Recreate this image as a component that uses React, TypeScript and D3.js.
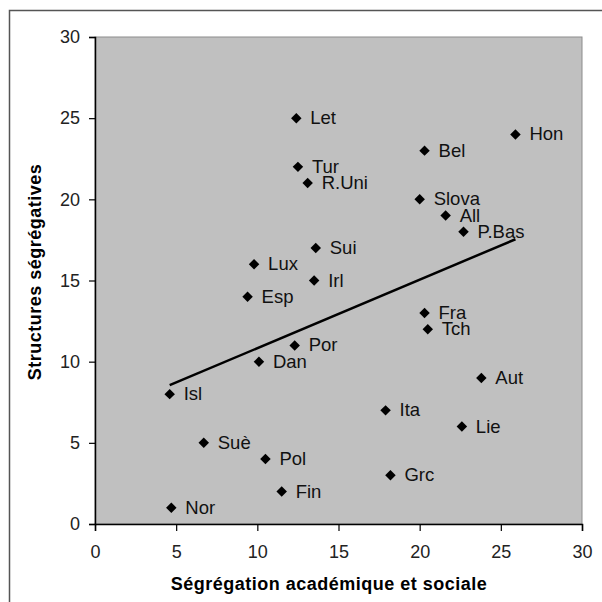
import React, { useEffect, useRef } from 'react'
import * as d3 from 'd3'

// pays et coordonnées
const countries = ['Let', 'Hon', 'Bel', 'Tur', 'R.Uni', 'Slova', 'All', 'P.Bas', 'Sui', 'Lux', 'Irl', 'Esp', 'Fra',
  'Tch', 'Por', 'Dan', 'Aut', 'Isl', 'Ita', 'Lie', 'Suè', 'Pol', 'Grc', 'Fin', 'Nor']
const segAcad = [12.4, 25.9, 20.3, 12.5, 13.1, 20.0, 21.6, 22.7, 13.6, 9.8, 13.5, 9.4, 20.3,
  20.5, 12.3, 10.1, 23.8, 4.6, 17.9, 22.6, 6.7, 10.5, 18.2, 11.5, 4.7]
const structSeg = [25, 24, 23, 22, 21, 20, 19, 18, 17, 16, 15, 14, 13,
  12, 11, 10, 9, 8, 7, 6, 5, 4, 3, 2, 1]
const ticks = [0, 5, 10, 15, 20, 25, 30]

const App = () => {
  const ref = useRef<SVGSVGElement>(null)

  useEffect(() => {
    const svg = d3.select(ref.current)
    svg.selectAll('*').remove()
    const font = '"Liberation Sans", Arial, sans-serif'

    const x = d3.scaleLinear().domain([0, 30]).range([95, 582])
    const y = d3.scaleLinear().domain([0, 30]).range([524, 37])

    svg.append('rect').attr('width', 602).attr('height', 602).attr('fill', '#fff')
    // cadre
    svg.append('path').attr('d', 'M9.5,602 V10.5 H602').attr('fill', 'none')
      .attr('stroke', '#555').attr('stroke-width', 1.5)

    svg.append('rect').attr('x', x(0)).attr('y', y(30))
      .attr('width', x(30) - x(0)).attr('height', y(0) - y(30))
      .attr('fill', '#c0c0c0').attr('stroke', '#8c8c8c').attr('stroke-width', 1)

    const yAxis = svg.append('g').attr('transform', `translate(${x(0)},0)`)
      .call(d3.axisLeft(y).tickValues(ticks).tickSize(6).tickPadding(9))
    const xAxis = svg.append('g').attr('transform', `translate(0,${y(0)})`)
      .call(d3.axisBottom(x).tickValues(ticks).tickSize(7).tickPadding(14))
    ;[yAxis, xAxis].forEach(g => {
      g.select('.domain').attr('stroke', '#000').attr('stroke-width', 1.5)
      g.selectAll('.tick line').attr('stroke', '#000').attr('stroke-width', 1.2)
      g.selectAll('.tick text').attr('font-family', font).attr('font-size', 18).attr('fill', '#222')
    })

    // droite de tendance (moindres carrés)
    const mx = d3.mean(segAcad)!, my = d3.mean(structSeg)!
    const slope = d3.sum(segAcad, (v, i) => (v - mx) * (structSeg[i] - my)) / d3.sum(segAcad, v => (v - mx) ** 2)
    const x0 = d3.min(segAcad)!, x1 = d3.max(segAcad)!
    svg.append('line')
      .attr('x1', x(x0)).attr('y1', y(my + slope * (x0 - mx)))
      .attr('x2', x(x1)).attr('y2', y(my + slope * (x1 - mx)))
      .attr('stroke', '#000').attr('stroke-width', 2.5)

    const pts = svg.append('g').selectAll('g').data(countries).join('g')
      .attr('transform', (d, i) => `translate(${x(segAcad[i])},${y(structSeg[i])})`)
    pts.append('path').attr('d', d3.symbol(d3.symbolDiamond2, 70)()).attr('fill', '#000')
    pts.append('text').attr('x', 14).attr('y', 6).text(d => d)
      .attr('font-family', font).attr('font-size', 18.5).attr('fill', '#111')

    svg.append('text').attr('x', 329).attr('y', 590).attr('text-anchor', 'middle')
      .attr('font-family', font).attr('font-size', 18).attr('font-weight', 'bold')
      .attr('letter-spacing', 0.5)
      .text('Ségrégation académique et sociale')
    svg.append('text').attr('transform', 'translate(41,272) rotate(-90)').attr('text-anchor', 'middle')
      .attr('font-family', font).attr('font-size', 18).attr('font-weight', 'bold')
      .attr('letter-spacing', 0.5)
      .text('Structures ségrégatives')
  }, [])

  return <svg ref={ref} width={602} height={602}
    style={{ position: 'absolute', left: 0, top: 0, display: 'block' }} />
}

export default App
